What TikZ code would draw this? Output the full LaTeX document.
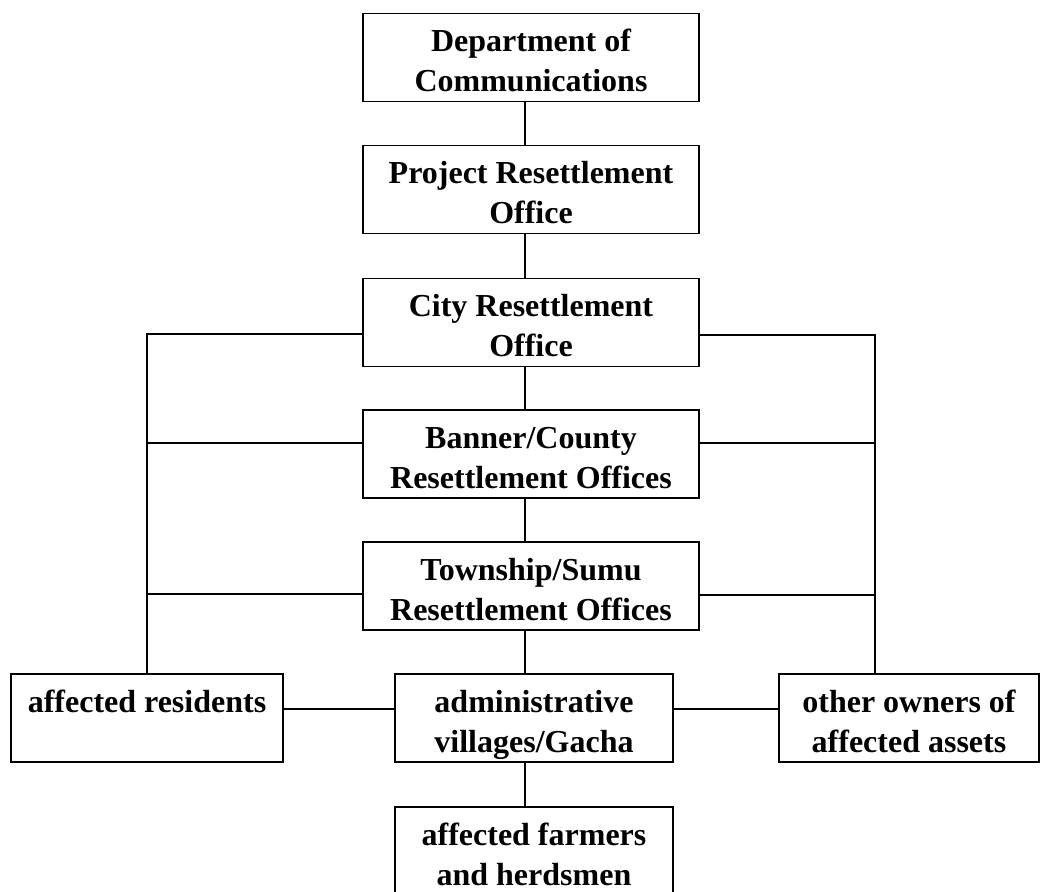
\documentclass[tikz,border=0pt]{standalone}
\usepackage{fontspec}
\setmainfont{Liberation Serif}
\newcommand{\bxt}[2]{\parbox[c][88pt][t]{#1}{\centering\rule{0pt}{38pt}#2}}
\begin{document}
\begin{tikzpicture}[x=1pt,y=-1pt,
  box/.style={draw,line width=1.7pt,rectangle,inner sep=0pt,outer sep=0pt,
    font=\fontsize{32}{40}\selectfont\bfseries},
  conn/.style={line width=1.6pt}]
\useasboundingbox (0,0) rectangle (1040,891);
\clip (0,0) rectangle (1040,891);
\node[box] (dept) at (531,57.5) {\bxt{336pt}{Department of\\Communications}};
\node[box] (proj) at (531,189.5) {\bxt{336pt}{Project Resettlement\\Office}};
\node[box] (city) at (531,322.5) {\bxt{336pt}{City Resettlement\\Office}};
\node[box] (banner) at (531,454) {\bxt{336pt}{Banner/County\\Resettlement Offices}};
\node[box] (town) at (531,586) {\bxt{336pt}{Township/Sumu\\Resettlement Offices}};
\node[box] (res) at (147,718) {\bxt{272pt}{affected residents}};
\node[box] (admin) at (534,718) {\bxt{278pt}{administrative\\villages/Gacha}};
\node[box] (others) at (909,718) {\bxt{260pt}{other owners of\\affected assets}};
\node[box] (farm) at (534,851) {\bxt{278pt}{affected farmers\\and herdsmen}};
% central trunk
\coordinate (cx) at (525,0);
\draw[conn] (cx |- dept.south) -- (cx |- proj.north);
\draw[conn] (cx |- proj.south) -- (cx |- city.north);
\draw[conn] (cx |- city.south) -- (cx |- banner.north);
\draw[conn] (cx |- banner.south) -- (cx |- town.north);
\draw[conn] (cx |- town.south) -- (cx |- admin.north);
\draw[conn] (cx |- admin.south) -- (cx |- farm.north);
% left trunk
\coordinate (lt) at (147,334);
\coordinate (lm) at (147,443);
\coordinate (lb) at (147,594);
\draw[conn] (lt -| city.west) -- (lt) -- (res.north);
\draw[conn] (lm) -- (lm -| banner.west);
\draw[conn] (lb) -- (lb -| town.west);
% right trunk
\coordinate (rt) at (875,335);
\coordinate (rm) at (875,443);
\coordinate (rb) at (875,595);
\draw[conn] (rt -| city.east) -- (rt) -- (rt |- others.north);
\draw[conn] (rm) -- (rm -| banner.east);
\draw[conn] (rb) -- (rb -| town.east);
% bottom row
\coordinate (hb) at (0,709);
\draw[conn] (res.east |- hb) -- (admin.west |- hb);
\draw[conn] (admin.east |- hb) -- (others.west |- hb);
\end{tikzpicture}
\end{document}
